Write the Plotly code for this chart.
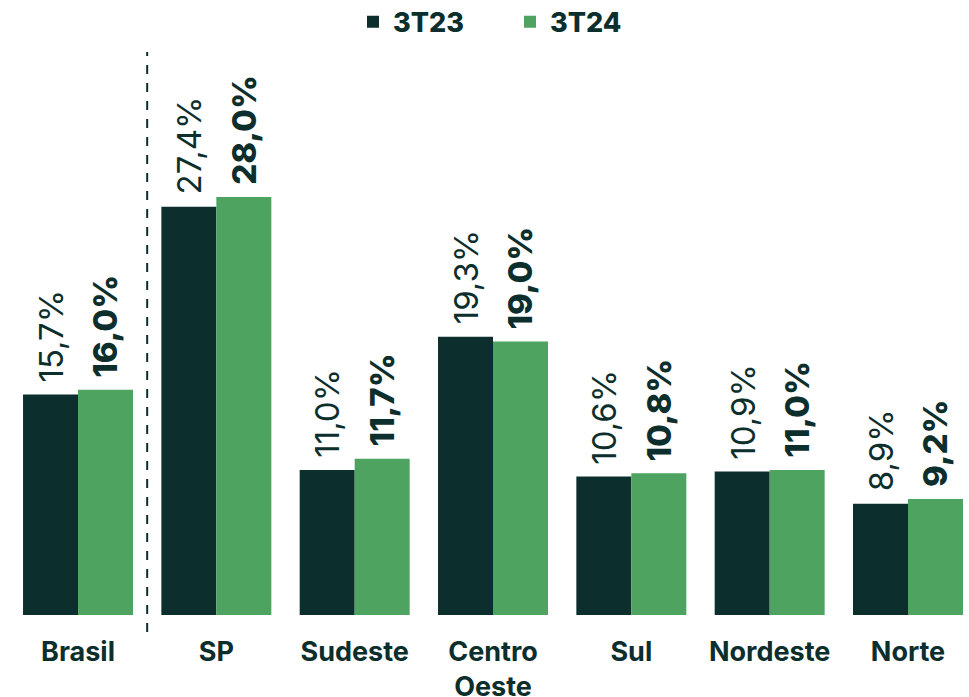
import plotly.graph_objects as go

categories = ["Brasil", "SP", "Sudeste", "Centro<br>Oeste", "Sul", "Nordeste", "Norte"]
series_3t23 = [15.7, 27.4, 11.0, 19.3, 10.6, 10.9, 8.9]
series_3t24 = [16.0, 28.0, 11.7, 19.0, 10.8, 11.0, 9.2]
labels_3t23 = ["15,7%", "27,4%", "11,0%", "19,3%", "10,6%", "10,9%", "8,9%"]
labels_3t24 = ["16,0%", "28,0%", "11,7%", "19,0%", "10,8%", "11,0%", "9,2%"]

DARK = "#0c2e2c"
GREEN = "#4da35f"
FONT = "Inter"

fig = go.Figure()
fig.add_trace(go.Bar(
    name="3T23", x=categories, y=series_3t23, marker_color=DARK,
    marker_line_width=0, cliponaxis=False,
))
fig.add_trace(go.Bar(
    name="3T24", x=categories, y=series_3t24, marker_color=GREEN,
    marker_line_width=0, cliponaxis=False,
))

for cat, v, lab in zip(categories, series_3t23, labels_3t23):
    fig.add_annotation(x=cat, y=v, text=lab, showarrow=False, textangle=-90,
                       xanchor="center", yanchor="bottom", xshift=-27.5, yshift=10,
                       font=dict(family=FONT, size=33, color=DARK, weight=400))
for cat, v, lab in zip(categories, series_3t24, labels_3t24):
    fig.add_annotation(x=cat, y=v, text=lab, showarrow=False, textangle=-90,
                       xanchor="center", yanchor="bottom", xshift=27.5, yshift=10,
                       font=dict(family=FONT, size=33, color=DARK, weight=800))

fig.add_shape(type="line", xref="x", yref="paper", x0=0.5, x1=0.5, y0=-0.03, y1=1.0,
              line=dict(color=DARK, width=2, dash="dash"))

fig.update_layout(
    width=969, height=697,
    margin=dict(l=0, r=0, t=52, b=82, autoexpand=False),
    paper_bgcolor="white", plot_bgcolor="white",
    barmode="group", bargap=0.205, bargroupgap=0,
    font=dict(family=FONT, color=DARK),
    showlegend=True,
    legend=dict(orientation="h", x=353 / 969, xanchor="left", yref="container",
                y=0.968, yanchor="middle", entrywidth=112,
                font=dict(family=FONT, size=27, color=DARK, weight=800),
                itemsizing="constant", traceorder="normal"),
    xaxis=dict(range=[-0.564, 6.441], showgrid=False, showline=False, zeroline=False,
               automargin=False, ticks="", ticklabelstandoff=18,
               tickfont=dict(family=FONT, size=27, color=DARK, weight=700)),
    yaxis=dict(range=[1.97, 37.03], visible=False, showgrid=False, zeroline=False,
               automargin=False),
)

fig.write_html("out.html", config={"displayModeBar": False},
               post_script="document.body.style.margin='0';document.body.style.padding='0';")
